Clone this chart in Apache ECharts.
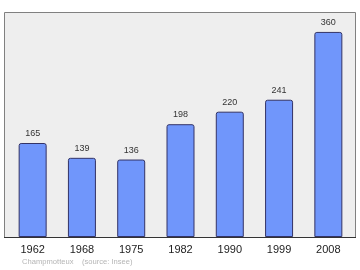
<!DOCTYPE html>
<html><head><meta charset="utf-8">
<script src="https://cdn.jsdelivr.net/npm/echarts@6/dist/echarts.min.js"></script>
<style>html,body{margin:0;padding:0;background:#fff}#c{width:360px;height:270px}</style>
</head><body><div id="c"></div>
<script>
const categories = ['1962','1968','1975','1982','1990','1999','2008'];
const population = [165,139,136,198,220,241,360];
const footer = 'Champmotteux    (source: Insee)';

const chart = echarts.init(document.getElementById('c'), null, {renderer:'canvas'});
chart.setOption({
  animation:false,
  backgroundColor:'#ffffff',
  grid:{left:8, right:7, top:12, bottom:33, show:false},
  xAxis:{type:'category', data:categories,
    axisLine:{show:false},
    axisTick:{show:false},
    axisLabel:{color:'#222222', fontSize:11, fontFamily:'Liberation Sans', margin:7}},
  yAxis:{type:'value', min:0, max:395, show:false, splitLine:{show:false}},
  series:[{type:'bar', data:population, barWidth:28,
    itemStyle:{color:'#7096fb', borderColor:'#333366', borderWidth:1, borderRadius:[2,2,0,0]},
    label:{show:true, position:'top', distance:5, color:'#333333', fontSize:9, fontFamily:'Liberation Sans'}}],
  graphic:[
    {type:'rect', z:-10, shape:{x:4.5, y:12.5, width:351, height:225}, style:{fill:'#eeeeee', stroke:'#808080', lineWidth:1}},
    {type:'line', z:10, shape:{x1:4, y1:237.5, x2:356, y2:237.5}, style:{stroke:'#333333', lineWidth:1}},
    {type:'text', left:22, top:258, style:{text:footer, fill:'#b5b5b5', fontSize:7.6, fontFamily:'Liberation Sans'}}
  ]
});
</script></body></html>
